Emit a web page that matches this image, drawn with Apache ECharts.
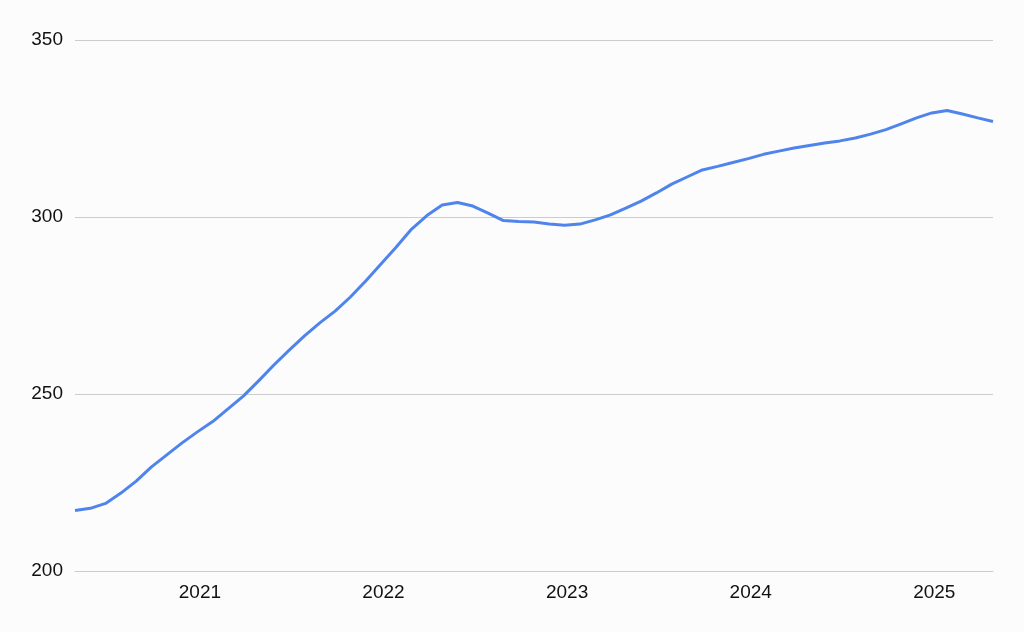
<!DOCTYPE html>
<html>
<head>
<meta charset="utf-8">
<script src="https://cdn.jsdelivr.net/npm/echarts@6/dist/echarts.min.js"></script>
<style>
html,body{margin:0;padding:0;background:#fcfcfc;}
#chart{width:1024px;height:632px;}
</style>
</head>
<body>
<div id="chart"></div>
<script>
// Monthly values, May 2020 – May 2025
const months = [
  '2020-05','2020-06','2020-07','2020-08','2020-09','2020-10','2020-11','2020-12',
  '2021-01','2021-02','2021-03','2021-04','2021-05','2021-06','2021-07','2021-08','2021-09','2021-10','2021-11','2021-12',
  '2022-01','2022-02','2022-03','2022-04','2022-05','2022-06','2022-07','2022-08','2022-09','2022-10','2022-11','2022-12',
  '2023-01','2023-02','2023-03','2023-04','2023-05','2023-06','2023-07','2023-08','2023-09','2023-10','2023-11','2023-12',
  '2024-01','2024-02','2024-03','2024-04','2024-05','2024-06','2024-07','2024-08','2024-09','2024-10','2024-11','2024-12',
  '2025-01','2025-02','2025-03','2025-04','2025-05'
];
const values = [
  217.1,217.7,219.1,222.0,225.4,229.4,232.8,236.2,
  239.3,242.2,245.8,249.4,253.7,258.2,262.4,266.4,270.1,273.4,277.4,281.9,
  286.7,291.5,296.6,300.4,303.4,304.1,303.1,301.1,299.0,298.7,298.6,298.0,
  297.7,298.0,299.2,300.6,302.5,304.5,306.8,309.3,311.3,313.3,314.3,315.4,
  316.5,317.7,318.6,319.5,320.2,320.9,321.5,322.3,323.4,324.7,326.3,328.0,
  329.4,330.1,329.1,328.0,327.0
];
const yTicks = {min: 200, max: 350, interval: 50};

const chart = echarts.init(document.getElementById('chart'));
chart.setOption({
  backgroundColor: '#fcfcfc',
  animation: false,
  grid: {left: 75, right: 31, top: 40, bottom: 61, containLabel: false},
  xAxis: {
    type: 'category',
    data: months,
    boundaryGap: false,
    axisLine: {show: true, lineStyle: {color: '#cccccc', width: 1}},
    axisTick: {show: false},
    splitLine: {show: false},
    axisLabel: {
      interval: function (i, v) { return v.endsWith('-01'); },
      formatter: function (v) { return v.slice(0, 4); },
      color: '#111111',
      fontFamily: 'Liberation Sans, Arial, sans-serif',
      fontSize: 19,
      margin: 12,
      padding: [0, 0, 0, 5]
    }
  },
  yAxis: {
    type: 'value',
    min: yTicks.min, max: yTicks.max, interval: yTicks.interval,
    axisLine: {show: false},
    axisTick: {show: false},
    splitLine: {lineStyle: {color: '#cccccc', width: 1}},
    axisLabel: {
      color: '#111111',
      fontFamily: 'Liberation Sans, Arial, sans-serif',
      fontSize: 19,
      margin: 12
    }
  },
  series: [{
    type: 'line',
    data: values,
    showSymbol: false,
    smooth: false,
    lineStyle: {color: '#4f84ec', width: 3},
    itemStyle: {color: '#4f84ec'}
  }]
});
</script>
</body>
</html>
